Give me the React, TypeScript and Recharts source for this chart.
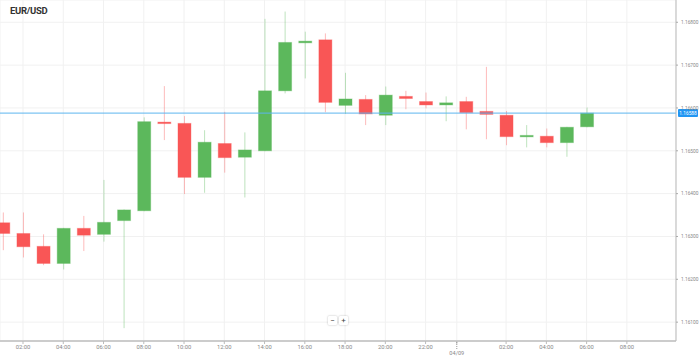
import { ComposedChart, Bar, XAxis, YAxis, CartesianGrid, ReferenceLine } from 'recharts';

// hourly candles, 01:00 on 04/08 through 06:00 on 04/09 (hour index)
const hours = [1, 2, 3, 4, 5, 6, 7, 8, 9, 10, 11, 12, 13, 14, 15, 16, 17, 18, 19, 20, 21, 22, 23, 24, 25, 26, 27, 28, 29, 30];
const opens = [1.16332, 1.16307, 1.16277, 1.16237, 1.16319, 1.16305, 1.16337, 1.16360, 1.16567, 1.16564, 1.16438, 1.16517, 1.16485, 1.16500, 1.16640, 1.16752, 1.16759, 1.16606, 1.16620, 1.16583, 1.16627, 1.16615, 1.16607, 1.16615, 1.16592, 1.16583, 1.16533, 1.16534, 1.16519, 1.16556];
const highs = [1.16356, 1.16356, 1.16305, 1.16320, 1.16348, 1.16432, 1.16363, 1.16578, 1.16651, 1.16581, 1.16548, 1.16591, 1.16543, 1.16808, 1.16825, 1.16778, 1.16774, 1.16682, 1.16630, 1.16650, 1.16640, 1.16636, 1.16627, 1.16626, 1.16696, 1.16593, 1.16560, 1.16552, 1.16556, 1.16601];
const lows = [1.16268, 1.16251, 1.16233, 1.16223, 1.16266, 1.16288, 1.16086, 1.16359, 1.16525, 1.16399, 1.16402, 1.16449, 1.16391, 1.16499, 1.16634, 1.16669, 1.16590, 1.16586, 1.16560, 1.16560, 1.16597, 1.16599, 1.16569, 1.16550, 1.16527, 1.16513, 1.16508, 1.16508, 1.16486, 1.16555];
const closes = [1.16307, 1.16276, 1.16237, 1.16319, 1.16303, 1.16333, 1.16362, 1.16568, 1.16564, 1.16438, 1.16520, 1.16484, 1.16502, 1.16640, 1.16753, 1.16756, 1.16613, 1.16621, 1.16586, 1.16630, 1.16622, 1.16607, 1.16612, 1.16589, 1.16585, 1.16533, 1.16536, 1.16519, 1.16555, 1.16588];

const xTicks = [2, 4, 6, 8, 10, 12, 14, 16, 18, 20, 22, 23.55, 26, 28, 30, 32];
const xTickLabels = ['02:00', '04:00', '06:00', '08:00', '10:00', '12:00', '14:00', '16:00', '18:00', '20:00', '22:00', '04/09', '02:00', '04:00', '06:00', '08:00'];
const yTicks = [1.161, 1.162, 1.163, 1.164, 1.165, 1.166, 1.167, 1.168];
const lastPrice = 1.16588;

const UP = '#5cb85c';
const DOWN = '#f95656';

const data = hours.map((h, i) => ({
  h,
  open: opens[i],
  high: highs[i],
  low: lows[i],
  close: closes[i],
}));

function Candle(props: any) {
  const { x, y, width, height, payload } = props;
  const { open, close, high, low } = payload;
  const up = close >= open;
  const col = up ? UP : DOWN;
  const top = Math.min(y, y + height);
  const h = Math.abs(height);
  const pxPer = h / (high - low || 1e-9);
  const bodyTop = top + (high - Math.max(open, close)) * pxPer;
  const bodyH = Math.max(Math.abs(open - close) * pxPer, 1.5);
  const cx = x + width / 2;
  return (
    <g>
      <line x1={cx} x2={cx} y1={top} y2={top + h} stroke={col} strokeOpacity={0.4} strokeWidth={1} />
      <rect x={x} y={bodyTop} width={width} height={bodyH} fill={col} stroke={col} strokeOpacity={0.35} strokeWidth={1} />
    </g>
  );
}

// tiny text drawn at 4x and scaled down, so the browser's minimum font size doesn't kick in
function Small({ x, y, size, anchor = 'start', fill = '#888', children }: any) {
  return (
    <text transform={`translate(${x},${y}) scale(0.25)`} fontSize={size * 4} textAnchor={anchor} fill={fill}>
      {children}
    </text>
  );
}

function XTick(props: any) {
  const { x, payload } = props;
  const idx = xTicks.indexOf(payload.value);
  const label = xTickLabels[idx] ?? '';
  if (label.includes('/')) {
    return (
      <g>
        <line x1={x} x2={x} y1={342} y2={349} stroke="#999" strokeDasharray="1 1" />
        <Small x={x} y={354.5} size={5.6} anchor="middle">{label}</Small>
      </g>
    );
  }
  return <Small x={x} y={348.8} size={5.8} anchor="middle">{label}</Small>;
}

function YTick(props: any) {
  const { x, y, payload } = props;
  return <Small x={x + 1} y={y + 1.8} size={4.8}>{payload.value.toFixed(5)}</Small>;
}

function PriceTag(props: any) {
  const { viewBox } = props;
  const x = viewBox.x + viewBox.width + 2;
  const y = viewBox.y;
  return (
    <g>
      <rect x={x} y={y - 4} width={20} height={8} rx={1} fill="#2196f3" />
      <Small x={x + 10} y={y + 1.8} size={4.8} anchor="middle" fill="#fff">{lastPrice.toFixed(5)}</Small>
    </g>
  );
}

const btn: React.CSSProperties = {
  position: 'absolute', top: 316, width: 9, height: 9, background: '#fff',
  boxShadow: '0 0 2px rgba(0,0,0,0.3)', borderRadius: 1, fontSize: 8, lineHeight: '9px',
  textAlign: 'center', color: '#444', fontFamily: 'Roboto, sans-serif',
};

export default function App() {
  return (
    <div style={{ position: 'fixed', left: 0, top: 0, width: 699, height: 359, background: '#fff', fontFamily: 'Roboto, sans-serif' }}>
      <ComposedChart width={699} height={359} data={data} margin={{ top: 0, right: 0, bottom: 0, left: 0 }}>
        <CartesianGrid stroke="#f1f1f1" />
        <XAxis
          dataKey="h"
          type="number"
          domain={[0.857, 34.44]}
          ticks={xTicks}
          interval={0}
          height={18}
          tick={<XTick />}
          tickSize={3}
          tickLine={{ stroke: '#bbb' }}
          axisLine={{ stroke: '#ccc', strokeWidth: 2 }}
          allowDataOverflow
        />
        <YAxis
          orientation="right"
          type="number"
          domain={[1.16056, 1.16852]}
          ticks={yTicks}
          width={23}
          tickSize={2}
          tickLine={{ stroke: '#aaa' }}
          axisLine={{ stroke: '#bbb' }}
          tick={<YTick />}
          allowDataOverflow
        />
        <Bar
          dataKey={(d: any) => [d.low, d.high]}
          barSize={13}
          shape={<Candle />}
          isAnimationActive={false}
        />
        <ReferenceLine y={lastPrice} stroke="#5db6ef" strokeWidth={1} label={<PriceTag />} />
      </ComposedChart>
      <div style={{ position: 'absolute', left: 10, top: 5, fontSize: 9.5, fontWeight: 700, color: '#333', letterSpacing: -0.3 }}>
        EUR/USD
      </div>
      <div style={{ ...btn, left: 328 }}>−</div>
      <div style={{ ...btn, left: 339 }}>+</div>
    </div>
  );
}
